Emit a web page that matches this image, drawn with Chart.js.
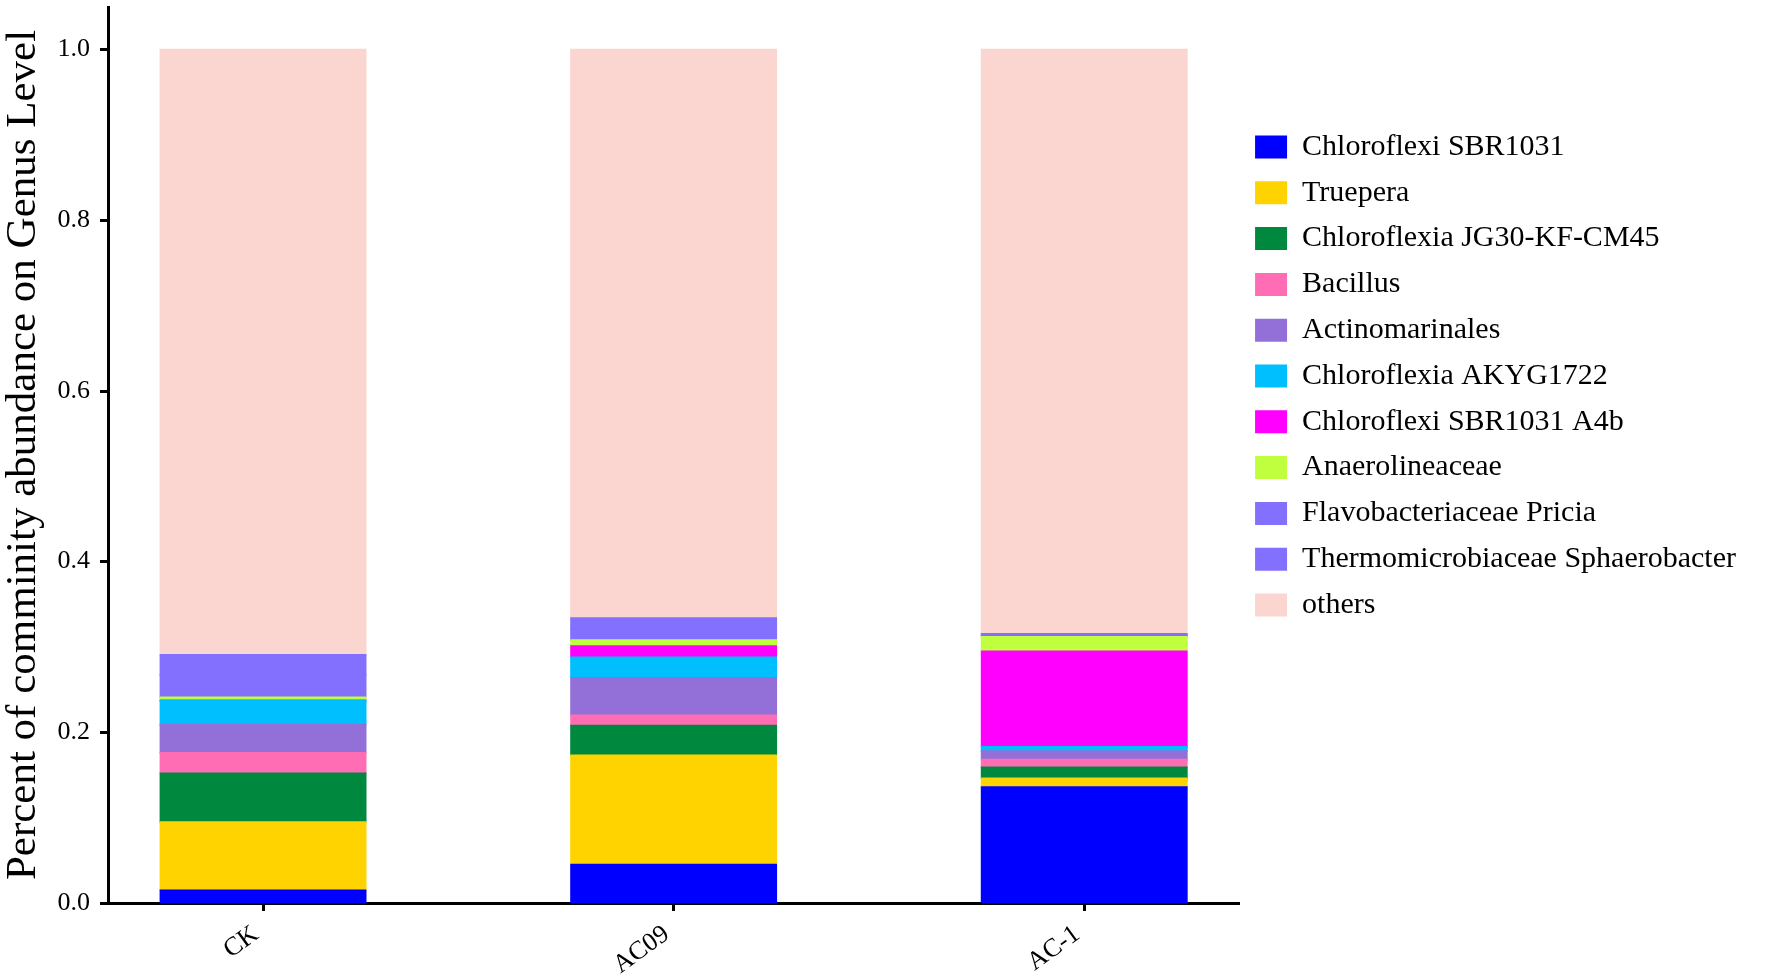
<!DOCTYPE html>
<html>
<head>
<meta charset="utf-8">
<script src="https://cdn.jsdelivr.net/npm/chart.js@4.4.1/dist/chart.umd.min.js"></script>
<style>
  html, body { margin: 0; padding: 0; background: #ffffff; }
  #wrap { width: 1784px; height: 978px; position: relative; }
</style>
</head>
<body>
<div id="wrap"><canvas id="c"></canvas></div>
<script>
// ---- data ----
const categories = ['CK', 'AC09', 'AC-1'];
const yTickValues = [0, 0.2, 0.4, 0.6, 0.8, 1.0];

const seriesNames = [
  'Chloroflexi SBR1031',
  'Truepera',
  'Chloroflexia JG30-KF-CM45',
  'Bacillus',
  'Actinomarinales',
  'Chloroflexia AKYG1722',
  'Chloroflexi SBR1031 A4b',
  'Anaerolineaceae',
  'Flavobacteriaceae Pricia',
  'Thermomicrobiaceae Sphaerobacter',
  'others'
];

const chloroflexiSBR1031   = [0.015, 0.045, 0.136];
const truepera             = [0.080, 0.128, 0.010];
const chloroflexiaJG30     = [0.057, 0.035, 0.013];
const bacillus             = [0.024, 0.012, 0.009];
const actinomarinales      = [0.033, 0.044, 0.010];
const chloroflexiaAKYG1722 = [0.028, 0.024, 0.005];
const chloroflexiA4b       = [0.0005, 0.013, 0.112];
const anaerolineaceae      = [0.0035, 0.007, 0.017];
const flavobacteriaceae    = [0.026, 0.013, 0.002];
const thermomicrobiaceae   = [0.024, 0.013, 0.0015];
const others               = [0.709, 0.666, 0.6845];

const seriesValues = [
  chloroflexiSBR1031, truepera, chloroflexiaJG30, bacillus, actinomarinales,
  chloroflexiaAKYG1722, chloroflexiA4b, anaerolineaceae, flavobacteriaceae,
  thermomicrobiaceae, others
];

const seriesColors = [
  '#0000FF', '#FFD300', '#00883F', '#FF6EB4', '#9370D8',
  '#00BFFF', '#FF00FF', '#C0FF3E', '#8470FF', '#8470FF', '#FBD6D0'
];

// ---- chart ----
Chart.defaults.font.family = "'Liberation Serif', 'Times New Roman', serif";
Chart.defaults.color = '#000000';

const datasets = seriesNames.map((name, k) => ({
  label: name,
  data: seriesValues[k].map((v, i) => ({ x: i, y: v })),
  backgroundColor: seriesColors[k],
  borderWidth: 0,
  inflateAmount: 0.8,
  barPercentage: 1.0,
  categoryPercentage: 0.5,
  stack: 'total'
}));

new Chart(document.getElementById('c'), {
  type: 'bar',
  data: { datasets },
  options: {
    responsive: true,
    maintainAspectRatio: false,
    animation: false,
    layout: { autoPadding: false, padding: { top: 7, right: 38, bottom: 0, left: 0 } },
    plugins: {
      tooltip: { enabled: false },
      legend: {
        position: 'right',
        align: 'start',
        maxWidth: 800,
        title: { display: true, text: '', font: { size: 10, lineHeight: 1 }, padding: { top: 99.2, bottom: 0 } },
        labels: {
          boxWidth: 32,
          boxHeight: 23,
          padding: 15.8,
          color: '#000000',
          font: { size: 30 }
        }
      }
    },
    scales: {
      x: {
        type: 'linear',
        stacked: true,
        offset: false,
        min: -0.3776,
        max: 2.3776,
        afterFit: (scale) => { scale.height = 75; },
        afterBuildTicks: (scale) => { scale.ticks = categories.map((_, i) => ({ value: i })); },
        grid: {
          display: true, offset: false, drawOnChartArea: false, drawTicks: true,
          tickLength: 8, tickWidth: 3, tickColor: '#000000'
        },
        border: { display: true, color: '#000000', width: 3 },
        ticks: {
          minRotation: 36, maxRotation: 36, padding: 8, labelOffset: -7,
          font: { size: 26 }, color: '#000000',
          callback: (value) => categories[value] !== undefined ? categories[value] : ''
        }
      },
      y: {
        type: 'linear',
        stacked: true,
        min: 0,
        max: 1.05,
        afterFit: (scale) => { scale.width = 108; scale.paddingTop = 0; scale.paddingBottom = 0; },
        afterBuildTicks: (scale) => { scale.ticks = yTickValues.map(v => ({ value: v })); },
        grid: {
          display: true, drawOnChartArea: false, drawTicks: true,
          tickLength: 8, tickWidth: 3, tickColor: '#000000'
        },
        border: { display: true, color: '#000000', width: 3 },
        ticks: {
          padding: 10,
          font: { size: 26 }, color: '#000000',
          callback: (value) => Number(value).toFixed(1)
        },
        title: {
          display: true,
          text: 'Percent of comminity abundance on Genus Level',
          font: { size: 43, lineHeight: 1.1 },
          color: '#000000',
          padding: 0
        }
      }
    }
  }
});
</script>
</body>
</html>
